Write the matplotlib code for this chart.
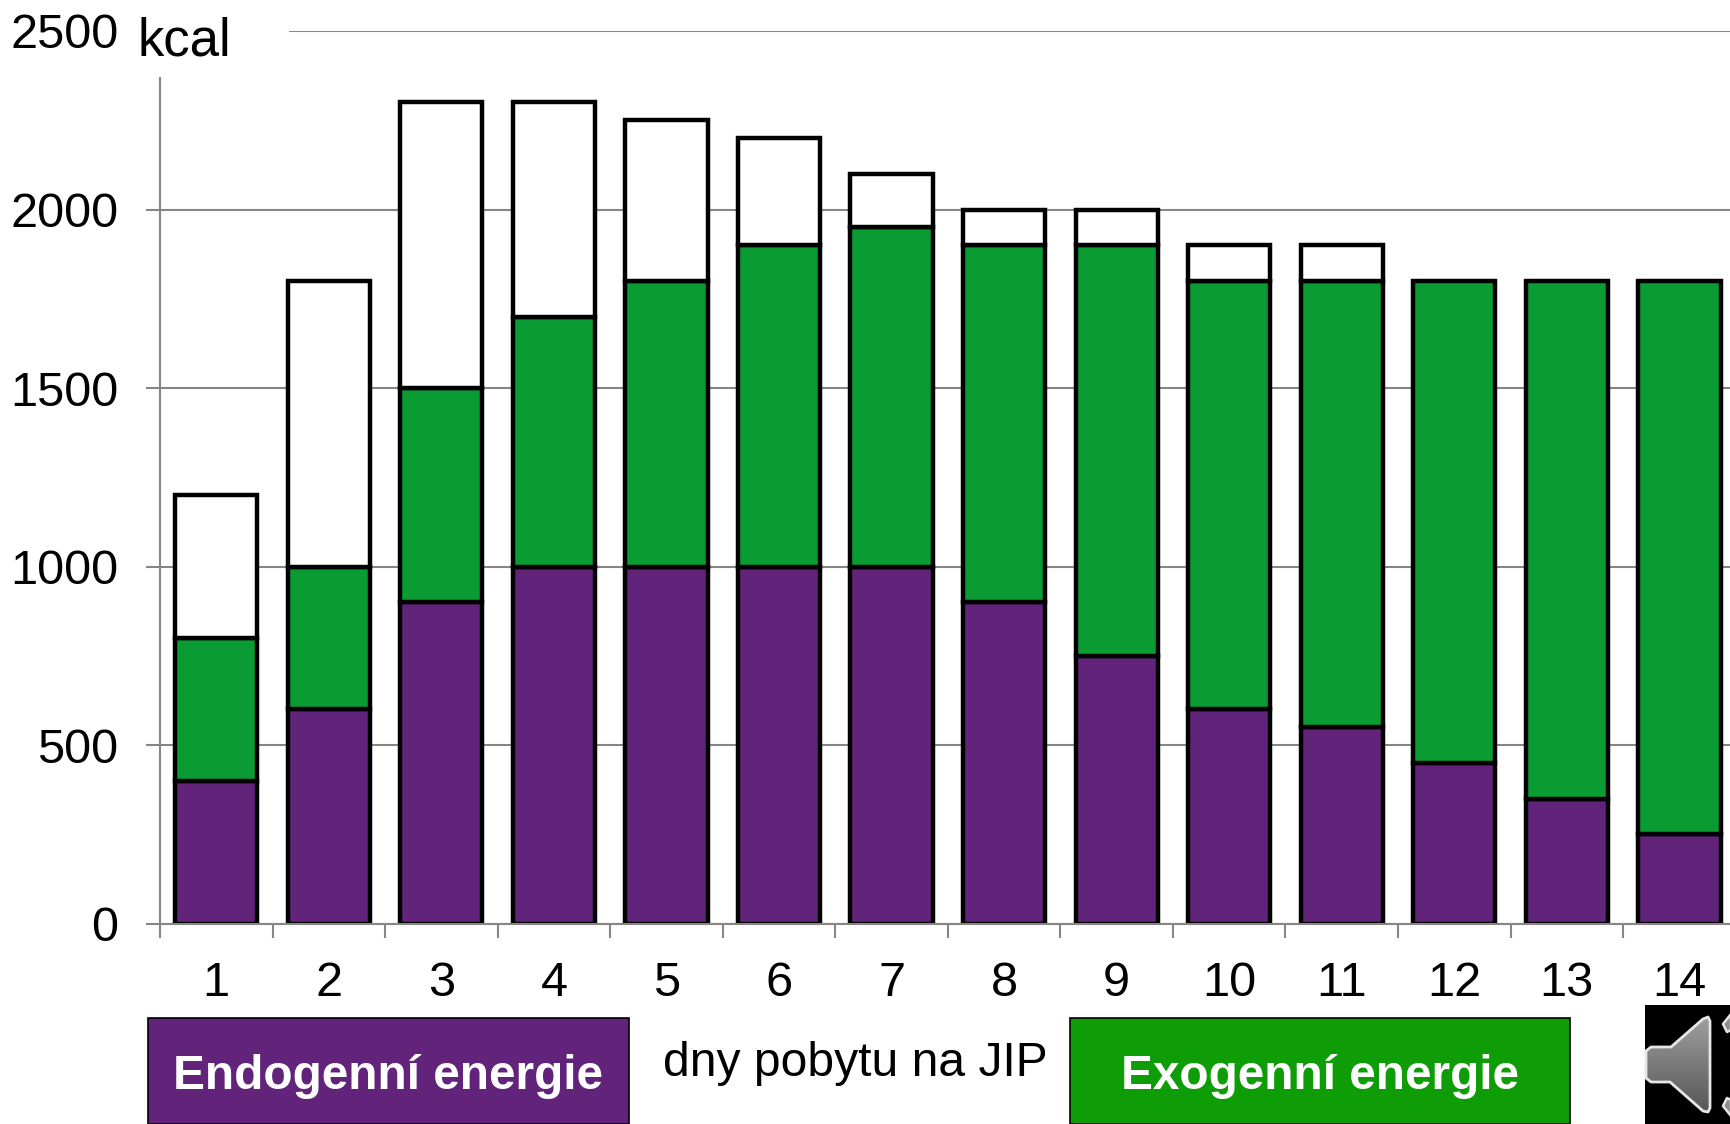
import matplotlib
matplotlib.use('Agg')
import matplotlib.pyplot as plt
from matplotlib.patches import Rectangle, Polygon
import numpy as np

purple = '#62237B'
green = '#0A9B33'
box_green = '#0F9D07'
gridgray = '#868686'

W, H = 1731, 1124

days = list(range(1, 15))
endogenni = [400, 600, 900, 1000, 1000, 1000, 1000, 900, 750, 600, 550, 450, 350, 250]
exogenni = [400, 400, 600, 700, 800, 900, 950, 1000, 1150, 1200, 1250, 1350, 1450, 1550]
deficit = [400, 800, 800, 600, 450, 300, 150, 100, 100, 100, 100, 0, 0, 0]
yticks = [0, 500, 1000, 1500, 2000, 2500]


def px_box(x0, y0, x1, y1, **kw):
    # rectangle given in image pixels, y from the top
    return Rectangle((x0 / W, 1 - y1 / H), (x1 - x0) / W, (y1 - y0) / H,
                     transform=fig.transFigure, **kw)


def px_text(x, y, s, **kw):
    fig.text(x / W, 1 - y / H, s, va='baseline', **kw)


plt.rcParams['font.family'] = ['Liberation Sans', 'DejaVu Sans']

fig = plt.figure(figsize=(W / 100, H / 100), dpi=100)
# axes runs past the right edge of the picture, like the cropped slide
ax = fig.add_axes([160 / W, 1 - 923.7 / H, (14 * 112.55) / W, (923.7 - 31) / H])

endo = np.array(endogenni)
exo = np.array(exogenni)
rest = np.array(deficit)
x = np.array(days)
width = 0.73
lw = 3.2
ax.bar(x, endo, width, color=purple, edgecolor='black', linewidth=lw)
ax.bar(x, exo, width, bottom=endo, color=green, edgecolor='black', linewidth=lw)
ax.bar(x[rest > 0], rest[rest > 0], width, bottom=(endo + exo)[rest > 0], color='white',
       edgecolor='black', linewidth=lw)

ax.set_xlim(0.5, 14.5)
ax.set_ylim(0, 2500)
ax.set_axisbelow(True)
ax.yaxis.grid(True, color=gridgray, linewidth=1.5)
ax.spines['top'].set_visible(False)
ax.spines['right'].set_visible(False)
for s in ('left', 'bottom'):
    ax.spines[s].set_color(gridgray)
    ax.spines[s].set_linewidth(1.5)

ax.set_yticks(yticks)
ax.set_yticklabels([str(v) for v in yticks], fontsize=35)
ax.tick_params(axis='y', length=10, width=1.5, color=gridgray, pad=20)

# tick marks sit between the days, labels under the bars
ax.set_xticks(x - 0.5)
ax.set_xticklabels([])
ax.set_xticks(x, minor=True)
ax.set_xticklabels([str(d) for d in days], minor=True, fontsize=35)
ax.tick_params(axis='x', which='major', length=10, width=1.5, color=gridgray)
ax.tick_params(axis='x', which='minor', length=0, pad=27)

# white patch hiding the axis top and gridline behind the unit
fig.add_artist(px_box(130, 0, 289, 77, facecolor='white', edgecolor='none', zorder=5))
px_text(138, 56, 'kcal', fontsize=38, color='black', zorder=6)

fig.add_artist(px_box(148, 1018, 629.5, 1123.5, facecolor=purple, edgecolor='black', linewidth=1.2))
px_text(173, 1089, 'Endogenní energie', fontsize=34.4, fontweight='bold', color='white')
px_text(663, 1076, 'dny pobytu na JIP', fontsize=34.6, color='black')
fig.add_artist(px_box(1070, 1018, 1569.5, 1123.5, facecolor=box_green, edgecolor='black', linewidth=1.2))
px_text(1320, 1089, 'Exogenní energie', fontsize=34.4, fontweight='bold', color='white', ha='center')

# speaker icon
fig.add_artist(px_box(1645, 1005, 1731, 1124, facecolor='black', edgecolor='none'))
img_ax = fig.add_axes([0, 0, 1, 1])
img_ax.axis('off')
img_ax.set_zorder(3)
spk = np.array([(1651, 1047), (1671, 1047), (1703, 1019), (1708, 1017), (1710, 1021), (1710, 1108),
                (1708, 1112), (1703, 1111), (1670, 1082), (1651, 1082), (1646, 1078), (1646, 1051)])
grad = np.linspace(0.62, 0.34, 64).reshape(-1, 1)
im = img_ax.imshow(grad, cmap='gray', vmin=0, vmax=1, extent=(1646, 1710, 1112, 1017), aspect='auto')
img_ax.set_xlim(0, W)
img_ax.set_ylim(H, 0)
im.set_clip_path(Polygon(spk, closed=True, transform=img_ax.transData))
img_ax.add_patch(Polygon(spk, closed=True, facecolor='none', edgecolor='#E6E6E6', linewidth=2.0, joinstyle='round'))
for pts in ([(1723, 1024), (1731, 1014), (1731, 1030), (1727, 1032)],
            [(1723, 1106), (1731, 1116), (1731, 1100), (1727, 1098)]):
    img_ax.add_patch(Polygon(pts, closed=True, facecolor='#8A8A8A', edgecolor='#E6E6E6', linewidth=1.8, joinstyle='round'))

fig.savefig('out.png', dpi=100)
